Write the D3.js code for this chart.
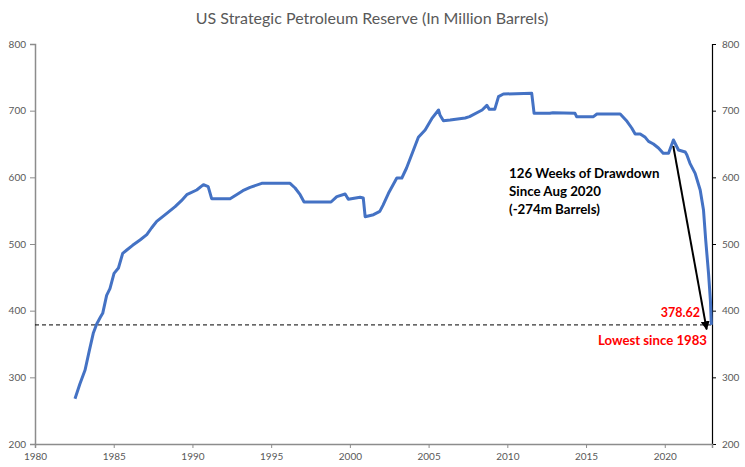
<!DOCTYPE html>
<html><head><meta charset="utf-8">
<script src="https://cdn.jsdelivr.net/npm/d3@7"></script>
<style>body{margin:0;background:#fff}svg{display:block}</style>
</head><body><div id="chart"></div>
<script>
const title = "US Strategic Petroleum Reserve (In Million Barrels)";
const years = [1982.54,1982.85,1983.18,1983.45,1983.7,1983.92,1984.15,1984.3,1984.55,1984.76,1985.02,1985.3,1985.57,1985.83,1986.2,1986.67,1987.1,1987.4,1987.73,1988.37,1988.9,1989.3,1989.64,1990.27,1990.7,1991.0,1991.22,1992.39,1992.8,1993.2,1993.66,1994.4,1996.2,1996.52,1996.84,1997.09,1998.8,1999.17,1999.7,1999.9,2000.65,2000.85,2000.97,2001.5,2001.9,2002.1,2002.45,2002.98,2003.3,2003.6,2004.04,2004.35,2004.78,2005.2,2005.63,2005.73,2005.94,2006.37,2007.32,2007.6,2008.4,2008.7,2008.86,2009.2,2009.44,2009.75,2011.55,2011.7,2012.7,2012.9,2014.3,2014.4,2015.47,2015.69,2017.17,2017.6,2017.9,2018.12,2018.44,2018.76,2018.97,2019.28,2019.6,2019.9,2020.24,2020.55,2020.87,2021.3,2021.4,2021.6,2021.93,2022.25,2022.46,2022.6,2022.78,2022.9,2022.96];
const reserve = [268,290,311,340,366,380,390,396,423,433,456,464,486,491,498,506,514,524,534,546,556,565,574,581,589,586,568,568,574,580,585,591,591,584,574,563,563,571,575,567,570,569,541,544,549,558,576,599,599,614,641,660,671,688,701,693,685,686,689,691,701,708,702,702,721,725,726,696,696,697,696,691,691,695,695,684,674,665,665,660,654,650,644,636,636,656,641,638,634,621,606,581,551,506,456,415,378.62];
const yTicks = [200,300,400,500,600,700,800];
const xTicks = [1980,1985,1990,1995,2000,2005,2010,2015,2020];
const lowValue = 378.62;
const arrowFrom = [2020.54, 647];
const arrowTo = [2022.66, 372];
const noteLines = ["126 Weeks of Drawdown","Since Aug 2020","(-274m Barrels)"];
const lowLabel = "378.62";
const lowNote = "Lowest since 1983";

const W = 745, H = 467;
const x = d3.scaleLinear().domain([1980, 2023]).range([35, 712]);
const y = d3.scaleLinear().domain([200, 800]).range([444, 44]);

const svg = d3.select("#chart").append("svg").attr("width", W).attr("height", H);
const font = "Lato, 'Open Sans', sans-serif";

svg.append("text").attr("x", 372).attr("y", 24).attr("text-anchor","middle")
  .attr("font-family", font).attr("font-size", 16).attr("fill","#595959").text(title);

// left axis
const gl = svg.append("g").attr("transform","translate(35,0)")
  .call(d3.axisLeft(y).tickValues(yTicks).tickSize(5).tickPadding(4));
gl.select(".domain").attr("stroke","#8c8c8c").attr("stroke-width",1.5);
gl.selectAll(".tick line").attr("stroke","#8c8c8c");
gl.selectAll("text").attr("font-family",font).attr("font-size",10).attr("fill","#595959");

// right axis
const gr = svg.append("g").attr("transform","translate(712,0)")
  .call(d3.axisRight(y).tickValues(yTicks).tickSize(4).tickPadding(6));
gr.select(".domain").attr("stroke","#000").attr("stroke-width",1.2);
gr.selectAll(".tick line").attr("stroke","#000");
gr.selectAll("text").attr("font-family",font).attr("font-size",10).attr("fill","#595959");

// bottom axis
const gb = svg.append("g").attr("transform","translate(0,444)")
  .call(d3.axisBottom(x).tickValues(xTicks).tickFormat(d3.format("d")).tickSize(4).tickPadding(5));
gb.select(".domain").attr("stroke","#8c8c8c").attr("stroke-width",1.5);
gb.selectAll(".tick line").attr("stroke","#8c8c8c");
gb.selectAll("text").attr("font-family",font).attr("font-size",10).attr("fill","#595959");

// dashed low line
svg.append("line").attr("x1",x(1980)).attr("x2",x(2023)).attr("y1",y(lowValue)).attr("y2",y(lowValue))
  .attr("stroke","#000").attr("stroke-width",1).attr("stroke-dasharray","4,3");

// series
const data = years.map((t,i)=>[t,reserve[i]]);
svg.append("path").datum(data)
  .attr("d", d3.line().x(d=>x(d[0])).y(d=>y(d[1])))
  .attr("fill","none").attr("stroke","#4472C4").attr("stroke-width",3).attr("stroke-linejoin","round");

// arrow
svg.append("defs").append("marker").attr("id","ah").attr("viewBox","0 0 10 10")
  .attr("refX",9).attr("refY",5).attr("markerWidth",4.5).attr("markerHeight",4.5)
  .attr("orient","auto").append("path").attr("d","M0,0L10,5L0,10z").attr("fill","#000");
svg.append("line").attr("x1",x(arrowFrom[0])).attr("y1",y(arrowFrom[1]))
  .attr("x2",x(arrowTo[0])).attr("y2",y(arrowTo[1]))
  .attr("stroke","#000").attr("stroke-width",2).attr("marker-end","url(#ah)");

// annotation text
const nt = svg.append("text").attr("font-family",font).attr("font-weight","bold")
  .attr("font-size",13.3).attr("fill","#000");
noteLines.forEach((s,i)=>nt.append("tspan").attr("x",509).attr("y",178+i*18).text(s));

svg.append("text").attr("x",700).attr("y",y(lowValue)-8).attr("text-anchor","end")
  .attr("font-family",font).attr("font-weight","bold").attr("font-size",12.5).attr("fill","#ff0000").text(lowLabel);
svg.append("text").attr("x",707).attr("y",y(lowValue)+20).attr("text-anchor","end")
  .attr("font-family",font).attr("font-weight","bold").attr("font-size",13.2).attr("fill","#ff0000").text(lowNote);
</script></body></html>
